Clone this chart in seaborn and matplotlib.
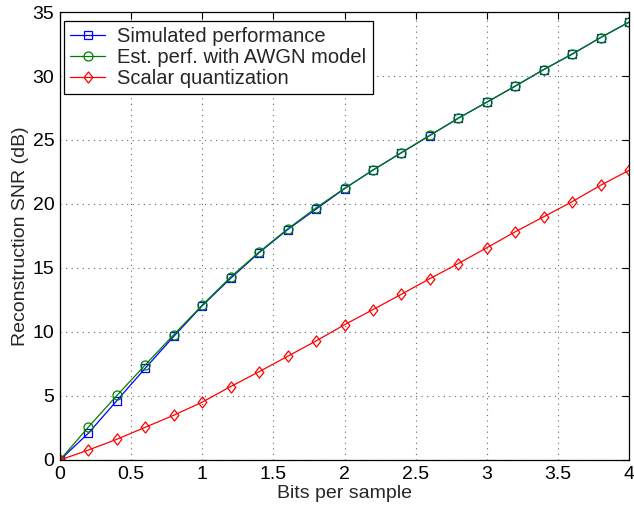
import numpy as np
import pandas as pd
import matplotlib
matplotlib.use("Agg")
import matplotlib.pyplot as plt
from matplotlib.path import Path
import seaborn as sns

bits = [0.0, 0.2, 0.4, 0.6, 0.8, 1.0, 1.2, 1.4, 1.6, 1.8, 2.0,
        2.2, 2.4, 2.6, 2.8, 3.0, 3.2, 3.4, 3.6, 3.8, 4.0]
simulated = [0.0, 2.1, 4.64, 7.18, 9.66, 12.05, 14.2, 16.2, 18.0, 19.6, 21.2,
             22.65, 24.0, 25.35, 26.7, 27.95, 29.2, 30.5, 31.7, 33.0, 34.2]
awgn_est = [0.0, 2.58, 5.04, 7.44, 9.79, 12.1, 14.3, 16.25, 18.05, 19.7, 21.22,
            22.65, 24.02, 25.37, 26.7, 27.95, 29.22, 30.5, 31.72, 33.0, 34.22]
scalar_q = [0.0, 0.78, 1.62, 2.56, 3.5, 4.52, 5.74, 6.9, 8.1, 9.3, 10.57,
            11.75, 12.95, 14.17, 15.35, 16.58, 17.83, 19.0, 20.18, 21.46, 22.63]
labels = ["Simulated performance", "Est. perf. with AWGN model", "Scalar quantization"]
x_ticks = [0, 0.5, 1, 1.5, 2, 2.5, 3, 3.5, 4]
x_tick_labels = ["0", "0.5", "1", "1.5", "2", "2.5", "3", "3.5", "4"]
y_ticks = [0, 5, 10, 15, 20, 25, 30, 35]

sns.set_style("white")
plt.rcParams['font.family'] = ['Liberation Sans', 'DejaVu Sans']

diamond = Path([(0, 1), (0.78, 0), (0, -1), (-0.78, 0), (0, 1)],
               [Path.MOVETO, Path.LINETO, Path.LINETO, Path.LINETO, Path.CLOSEPOLY])

fig = plt.figure(figsize=(6.34, 5.07), dpi=100)
ax = fig.add_axes([60/634, 47/507, 569/634, 448/507])

series = [
    (simulated, labels[0], (0, 0, 1), 's', 6),
    (awgn_est, labels[1], (0, 0.5, 0), 'o', 6.5),
    (scalar_q, labels[2], (1, 0, 0), diamond, 8),
]
for vals, lab, col, mk, ms in series:
    df = pd.DataFrame({"bits": bits, "snr": vals})
    sns.lineplot(data=df, x="bits", y="snr", ax=ax, color=col, linewidth=0.9,
                 marker=mk, markersize=ms, markerfacecolor='none',
                 markeredgecolor=col, markeredgewidth=0.9, label=lab)

ax.set_xlim(0, 4)
ax.set_ylim(0, 35)
ax.set_xticks(x_ticks)
ax.set_xticklabels(x_tick_labels)
ax.set_yticks(y_ticks)
ax.tick_params(direction='in', length=5, width=0.8, top=True, right=True,
               labelsize=14, colors='black', pad=4)
ax.grid(True, linestyle=(0, (1, 4)), color='#666666', linewidth=0.8)
for s in ax.spines.values():
    s.set_color('black')
    s.set_linewidth(0.9)
ax.set_xlabel("Bits per sample", fontsize=14, labelpad=2)
ax.set_ylabel("Reconstruction SNR (dB)", fontsize=14, labelpad=3)

leg = ax.legend(loc='upper left', bbox_to_anchor=(0.007, 0.98), fontsize=14.5,
                frameon=True, fancybox=False, edgecolor='black',
                borderaxespad=0, labelspacing=0.1, handlelength=1.75,
                handletextpad=0.6, borderpad=0.3)
leg.get_frame().set_linewidth(0.9)
leg.get_frame().set_alpha(1)

fig.savefig("out.png", dpi=100)
